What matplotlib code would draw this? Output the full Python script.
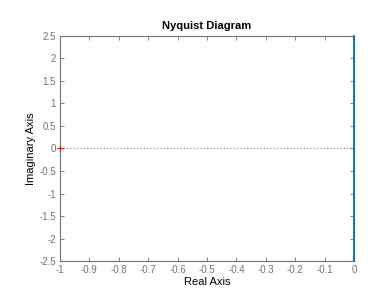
import matplotlib
matplotlib.use("Agg")
import matplotlib.pyplot as plt
import numpy as np

# Nyquist curve: purely imaginary response (positive and negative frequency branches)
real_pos = [0.0, 0.0]
imag_pos = [0.0, 2.5]
real_neg = [0.0, 0.0]
imag_neg = [0.0, -2.5]

crit_point = (-1, 0)

xticks = [-1, -0.9, -0.8, -0.7, -0.6, -0.5, -0.4, -0.3, -0.2, -0.1, 0]
xticklabels = ['-1', '-0.9', '-0.8', '-0.7', '-0.6', '-0.5', '-0.4', '-0.3', '-0.2', '-0.1', '0']
yticks = [-2.5, -2, -1.5, -1, -0.5, 0, 0.5, 1, 1.5, 2, 2.5]
yticklabels = ['-2.5', '-2', '-1.5', '-1', '-0.5', '0', '0.5', '1', '1.5', '2', '2.5']

plt.rcParams['font.family'] = ['Liberation Sans', 'DejaVu Sans']

fig = plt.figure(figsize=(3.92, 2.94), dpi=100)
ax = fig.add_axes([0.153, 0.112, 0.750, 0.766])

blue = (0, 0.447, 0.741)
ax.axhline(0, color=(0.5, 0.5, 0.5), linestyle=(0, (1, 2)), linewidth=0.8, zorder=1)
ax.plot(real_pos, imag_pos, color=blue, linewidth=1.3, zorder=3, clip_on=False)
ax.plot(real_neg, imag_neg, color=blue, linewidth=1.3, zorder=3, clip_on=False)
ax.plot(crit_point[0], crit_point[1], '+', color='r', markersize=4, markeredgewidth=0.8,
        clip_on=False, zorder=4)

ax.set_xlim(-1, 0)
ax.set_ylim(-2.5, 2.5)
ax.set_xticks(xticks)
ax.set_xticklabels(xticklabels)
ax.set_yticks(yticks)
ax.set_yticklabels(yticklabels)

grey = (0.45, 0.45, 0.45)
for s in ax.spines.values():
    s.set_color(grey)
    s.set_linewidth(0.8)
ax.tick_params(direction='in', length=3, width=0.6, colors=grey, labelsize=7,
               top=True, right=True, pad=3)

ax.set_title('Nyquist Diagram', fontsize=8, fontweight='bold', pad=5)
ax.set_xlabel('Real Axis', fontsize=8, labelpad=1)
ax.set_ylabel('Imaginary Axis', fontsize=8, labelpad=2)

fig.savefig('out.png', dpi=100)
